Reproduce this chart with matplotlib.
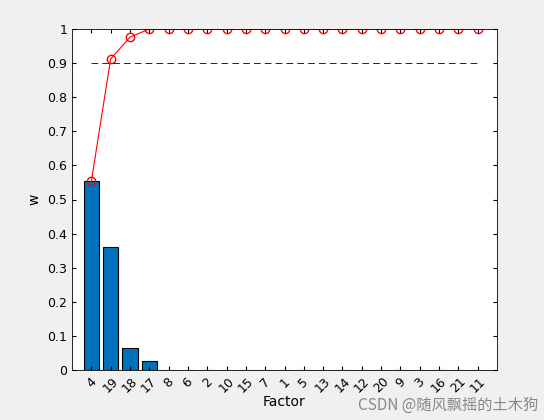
import matplotlib
matplotlib.use("Agg")
import matplotlib.pyplot as plt
import numpy as np

factors = ['4','19','18','17','8','6','2','10','15','7','1','5','13','14','12','20','9','3','16','21','11']
w = [0.553,0.36,0.065,0.025,0,0,0,0,0,0,0,0,0,0,0,0,0,0,0,0,0]
cum = [0.553,0.912,0.976,1.0,1,1,1,1,1,1,1,1,1,1,1,1,1,1,1,1,1]
threshold = 0.9

fig = plt.figure(figsize=(5.44,4.20), dpi=100, facecolor='#f0f0f0')
ax = fig.add_axes([72/544, 50/420, 425/544, 341/420])
x = np.arange(1, len(factors)+1)
ax.bar(x, w, width=0.8, color='#0072bd', edgecolor='black', linewidth=0.8)
ax.plot(x, cum, color='red', linewidth=0.8, marker='o', markerfacecolor='none', markersize=6)
ax.plot([x[0], x[-1]], [threshold, threshold], color='black', linestyle=(0,(8,5)), linewidth=0.6)
ax.set_xlim(0, 22)
ax.set_ylim(0, 1)
ax.set_yticks(np.arange(0, 1.01, 0.1))
ax.set_yticklabels(['0','0.1','0.2','0.3','0.4','0.5','0.6','0.7','0.8','0.9','1'])
ax.set_xticks(x)
ax.set_xticklabels(factors, rotation=45)
ax.tick_params(direction='in', labelsize=9, length=3, top=True, right=True, labeltop=False, labelright=False)
for s in ax.spines.values():
    s.set_linewidth(0.6)
ax.set_xlabel('Factor', fontsize=10, labelpad=0)
ax.set_ylabel('w', fontsize=10)
fig.text(0.99, 0.015, 'CSDN @随风飘摇的土木狗', ha='right', va='bottom', fontsize=11,
         color='#888888', family=['Noto Sans CJK SC', 'DejaVu Sans'])
fig.savefig('out.png', dpi=100, facecolor=fig.get_facecolor())
